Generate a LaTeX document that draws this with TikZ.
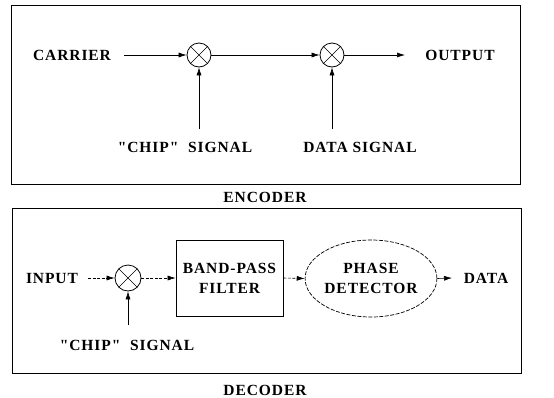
\documentclass[tikz,border=0pt]{standalone}
\usepackage{fontspec}
\setmainfont{Liberation Serif}[LetterSpace=6, Ligatures=TeXOff]
\usetikzlibrary{arrows.meta,shapes.geometric}
\tikzset{
  lbl/.style={font=\fontsize{15.5}{17}\selectfont\bfseries, inner sep=0pt, align=center},
  mix/.style={circle, draw, line width=0.8pt, minimum size=24pt, inner sep=0pt, path picture={
      \draw[line width=0.6pt] (path picture bounding box.north west) -- (path picture bounding box.south east)
        (path picture bounding box.north east) -- (path picture bounding box.south west);}},
  frame/.style={draw, line width=0.7pt},
  conn/.style={line width=0.6pt, -{Latex[length=8pt,width=5pt]}},
  dconn/.style={conn, dash pattern=on 3pt off 1.5pt},
  blk/.style={draw, line width=0.7pt, inner sep=0pt},
  ell/.style={ellipse, draw, line width=0.7pt, dash pattern=on 4pt off 1.5pt, inner sep=0pt},
}
\begin{document}
\begin{tikzpicture}[x=1pt,y=-1pt]
\useasboundingbox (0,0) rectangle (554,397);
% encoder frame
\node[frame, minimum width=509pt, minimum height=179pt, inner sep=0pt] (encbox) at (265.5,94.5) {};
\node[lbl] (enc) at (265,197) {ENCODER};
\node[lbl] (carrier) at (72,55) {CARRIER};
\node[mix] (m1) at (199,55) {};
\node[mix] (m2) at (332,55) {};
\node[lbl] (output) at (460,55) {OUTPUT};
\node[lbl] (chip1) at (185,147) {"CHIP"\ \ SIGNAL};
\node[lbl] (datasig) at (360,147) {DATA SIGNAL};
\coordinate (c1) at (199,129);
\coordinate (c2) at (332,129);
\coordinate (cin) at (124,55);
\coordinate (cout) at (405,55);
\draw[conn] (cin) -- (m1.west);
\draw[conn] (m1.east) -- (m2.west);
\draw[conn] (m2.east) -- (cout);
\draw[conn] (c1) -- (m1.south);
\draw[conn] (c2) -- (m2.south);
% decoder frame
\node[frame, minimum width=509pt, minimum height=165pt, inner sep=0pt] (decbox) at (266.5,290.5) {};
\node[lbl] (dec) at (265,390) {DECODER};
\node[lbl] (input) at (52,278) {INPUT};
\node[mix, minimum size=26pt] (m3) at (128,278) {};
\node[blk, lbl, minimum width=107pt, minimum height=76pt] (bpf) at (229.5,278) {BAND-PASS\\[3pt]FILTER};
\node[ell, lbl, minimum width=106pt, minimum height=77pt] (pd) at (371,278.5) {PHASE\\[3pt]DETECTOR};
\node[lbl] (data) at (486,278) {DATA};
\node[lbl] (chip2) at (127,345) {"CHIP"\ \ SIGNAL};
\coordinate (c3) at (128,325);
\coordinate (din) at (88,278);
\coordinate (dout) at (452,278);
\draw[dconn] (din) -- (m3.west);
\draw[dconn] (m3.east) -- (bpf.west);
\draw[dconn] (bpf.east) -- (pd.west);
\draw[conn] (pd.east) -- (dout);
\draw[conn] (c3) -- (m3.south);
\end{tikzpicture}
\end{document}
